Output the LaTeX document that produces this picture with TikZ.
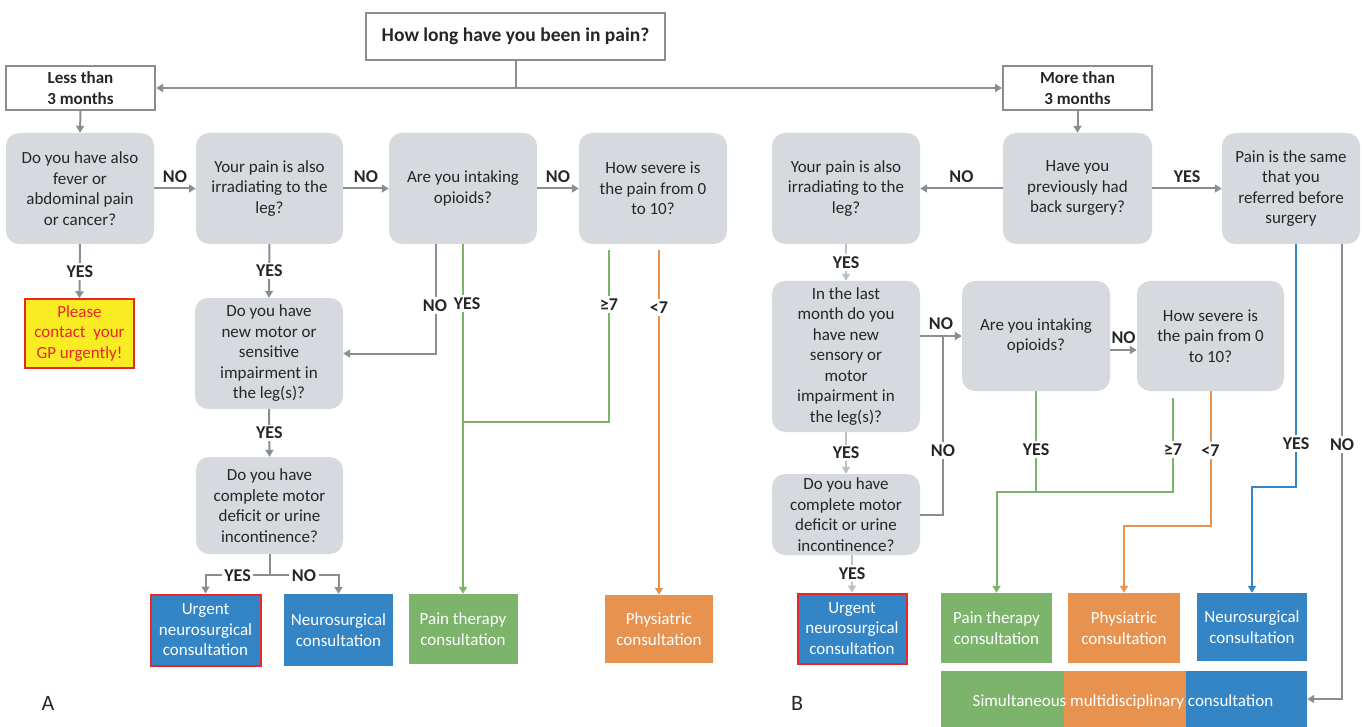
\documentclass[tikz,border=0pt]{standalone}
\usepackage{fontspec}
\setmainfont{Carlito}
\usetikzlibrary{arrows.meta}
\definecolor{qgray}{HTML}{D6D9DE}
\definecolor{lgray}{HTML}{898E93}
\definecolor{llgray}{HTML}{BDC0C4}
\definecolor{cgreen}{HTML}{7BB46A}
\definecolor{corange}{HTML}{E89250}
\definecolor{cblue}{HTML}{3385C6}
\definecolor{cred}{HTML}{E8262B}
\definecolor{cyellow}{HTML}{F9EC22}
\definecolor{txt}{HTML}{262626}
\newcommand\qf{\fontsize{17}{20.5}\selectfont}
\newcommand\hf{\fontsize{17}{21}\selectfont\bfseries}
\newcommand\tf{\fontsize{19.5}{22}\selectfont\bfseries}
\newcommand\lf{\fontsize{18}{19}\selectfont\bfseries}
\begin{document}
\begin{tikzpicture}[x=1pt,y=-1pt,
  q/.style={rectangle, rounded corners=13pt, fill=qgray, align=center, inner sep=0pt, text=txt, font=\qf},
  hdr/.style={rectangle, draw=lgray, line width=2pt, fill=white, align=center, inner sep=0pt, text=txt, font=\hf},
  res/.style={rectangle, align=center, inner sep=0pt, text=white, font=\qf},
  urg/.style={res, fill=cblue, draw=cred, line width=2pt},
  lab/.style={font=\lf, text=txt, fill=white, inner sep=2.5pt},
  labup/.style={font=\lf, text=txt, above=5pt, midway, inner sep=0pt},
  ln/.style={draw=lgray, line width=2pt},
  arr/.style={ln, -{Triangle[width=8pt,length=7pt]}},
  larr/.style={draw=llgray, line width=2pt, -{Triangle[width=8pt,length=7pt]}},
  gln/.style={draw=cgreen, line width=2pt},
  garr/.style={gln, -{Triangle[width=8pt,length=7pt]}},
  oarr/.style={draw=corange, line width=2pt, -{Triangle[width=8pt,length=7pt]}},
  barr/.style={draw=cblue, line width=2pt, -{Triangle[width=8pt,length=7pt]}}
]
\useasboundingbox (0,0) rectangle (1362,727);

% headers
\node[hdr, minimum width=299pt, minimum height=47pt, font=\tf] (top) at (515.5,36.5) {How long have you been in pain?};
\node[hdr, minimum width=149pt, minimum height=44pt] (less) at (80.5,88) {Less than\\3 months};
\node[hdr, minimum width=149pt, minimum height=44pt] (more) at (1077.5,88) {More than\\3 months};

% part A questions
\node[q, minimum width=148pt, minimum height=111pt] (Q1) at (80,188.5) {Do you have also\\fever or\\abdominal pain\\or cancer?};
\node[q, minimum width=147pt, minimum height=111pt] (Q2) at (269.5,188.5) {Your pain is also\\irradiating to the\\leg?};
\node[q, minimum width=148pt, minimum height=111pt] (Q3) at (463,188.5) {Are you intaking\\opioids?};
\node[q, minimum width=148pt, minimum height=111pt] (Q4) at (653,188.5) {How severe is\\the pain from 0\\to 10?};
\node[rectangle, fill=cyellow, draw=cred, line width=1.5pt, align=center, inner sep=0pt, text=cred, font=\qf, minimum width=109pt, minimum height=69pt] (GP) at (79.5,333.5) {Please\\contact\ \ your\\GP urgently!};
\node[q, minimum width=148pt, minimum height=111pt] (Q2b) at (269,353.5) {Do you have\\new motor or\\sensitive\\impairment in\\the leg(s)?};
\node[q, minimum width=147pt, minimum height=97pt] (Q2c) at (269.5,505.5) {Do you have\\complete motor\\deficit or urine\\incontinence?};

% part A results
\node[urg, minimum width=110pt, minimum height=71pt] (UrgA) at (205.5,630) {Urgent\\neurosurgical\\consultation};
\node[res, fill=cblue, minimum width=109pt, minimum height=72pt] (NeuA) at (338.5,630) {Neurosurgical\\consultation};
\node[res, fill=cgreen, minimum width=109pt, minimum height=70pt] (PainA) at (463,629) {Pain therapy\\consultation};
\node[res, fill=corange, minimum width=108pt, minimum height=68pt] (PhyA) at (659,629) {Physiatric\\consultation};

% part B questions
\node[q, minimum width=148pt, minimum height=111pt] (Q5) at (846,188.5) {Your pain is also\\irradiating to the\\leg?};
\node[q, minimum width=149pt, minimum height=111pt] (Q6) at (1077.5,188.5) {Have you\\previously had\\back surgery?};
\node[q, minimum width=138pt, minimum height=111pt] (Q7) at (1291,188.5) {Pain is the same\\that you\\referred before\\surgery};
\node[q, minimum width=148pt, minimum height=151pt] (Q5b) at (846,356.5) {In the last\\month do you\\have new\\sensory or\\motor\\impairment in\\the leg(s)?};
\node[q, minimum width=148pt, minimum height=110pt] (Q8) at (1036,336) {Are you intaking\\opioids?};
\node[q, minimum width=147pt, minimum height=110pt] (Q9) at (1210.5,336) {How severe is\\the pain from 0\\to 10?};
\node[q, minimum width=148pt, minimum height=81pt] (Q5c) at (846,514.5) {Do you have\\complete motor\\deficit or urine\\incontinence?};

% part B results
\node[urg, minimum width=109pt, minimum height=70pt] (UrgB) at (852,628.5) {Urgent\\neurosurgical\\consultation};
\node[res, fill=cgreen, minimum width=111pt, minimum height=70pt] (PainB) at (996.5,628) {Pain therapy\\consultation};
\node[res, fill=corange, minimum width=112pt, minimum height=70pt] (PhyB) at (1124,628) {Physiatric\\consultation};
\node[res, fill=cblue, minimum width=110pt, minimum height=68pt] (NeuB) at (1252,627) {Neurosurgical\\consultation};
\node[res, fill=cgreen, minimum width=123pt, minimum height=56pt] (barG) at (1002.5,699) {};
\node[res, fill=corange, minimum width=122pt, minimum height=56pt] (barO) at (1125,699) {};
\node[res, fill=cblue, minimum width=121pt, minimum height=56pt] (barN) at (1246.5,699) {};
\node[res] (bart) at (1123,702) {Simultaneous multidisciplinary consultation};

% panel letters
\node[font=\fontsize{22}{24}\selectfont, text=txt] (labA) at (48,703) {A};
\node[font=\fontsize{22}{24}\selectfont, text=txt] (labB) at (797,703) {B};

% bend coordinates
\coordinate (jA) at (463,422);
\coordinate (jB) at (943,337);
\coordinate (jG) at (1036,492);
\coordinate (jO) at (1211,526);
\coordinate (jN) at (1296,487);

% top connectors
\draw[ln] (top.south) -- (top.south |- less.east) coordinate (tj);
\draw[arr] (tj) -- (less.east);
\draw[arr] (tj) -- (more.west);
\draw[arr] (less.south) -- (Q1.north);
\draw[arr] (more.south) -- (Q6.north);

% part A connectors
\draw[arr] (Q1.east) -- node[labup]{NO} (Q2.west);
\draw[arr] (Q2.east) -- node[labup]{NO} (Q3.west);
\draw[arr] (Q3.east) -- node[labup]{NO} (Q4.west);
\draw[arr] (Q1.south) -- node[lab]{YES} (GP.north);
\draw[arr] (Q2.south) -- node[lab]{YES} (Q2b.north);
\draw[arr] (Q2b.south) -- node[lab]{YES} (Q2c.north);
\draw[ln] (Q2c.south) -- ++(0,21) coordinate (c2s);
\draw[arr] (c2s) -| node[lab, pos=0.25]{YES} (UrgA.north);
\draw[arr] (c2s) -| node[lab, pos=0.25]{NO} (NeuA.north);
\draw[arr] ([xshift=-27pt]Q3.south) |- node[lab, pos=0.28, xshift=-1pt, inner xsep=1pt]{NO} (Q2b.east);
\draw[garr] (Q3.south) -- node[lab, pos=0.17, xshift=4pt, inner xsep=1pt]{YES} (PainA.north);
\draw[gln, shorten <=6pt] ([xshift=-44pt]Q4.south) |- node[lab, pos=0.17]{≥7} (jA);
\draw[oarr, shorten <=6pt] (Q4.south -| PhyA.north) -- node[lab, pos=0.18]{<7} (PhyA.north);

% part B connectors
\draw[arr] (Q6.west) -- node[labup]{NO} (Q5.east);
\draw[arr] (Q6.east) -- node[labup]{YES} (Q7.west);
\draw[larr] (Q5.south) -- node[lab]{YES} (Q5b.north);
\draw[larr] (Q5b.south) -- node[lab]{YES} (Q5c.north);
\draw[larr] (Q5c.south -| UrgB.north) -- node[lab]{YES} (UrgB.north);
\draw[arr] (Q5b.east |- Q8.west) -- node[labup]{NO} (Q8.west);
\draw[ln] (Q5c.east) -| node[lab, pos=0.68]{NO} (jB);
\draw[arr] ([yshift=-14pt]Q8.east) -- node[labup]{NO} ([yshift=-14pt]Q9.west);
\draw[gln] (Q8.south) -- node[lab, pos=0.58]{YES} (jG);
\draw[garr, shorten <=7pt] ([xshift=-37.5pt]Q9.south) |- node[lab, pos=0.29]{≥7} (PainB.north |- jG) -- (PainB.north);
\draw[oarr] (Q9.south) |- node[lab, pos=0.22]{<7} (PhyB.north |- jO) -- (PhyB.north);
\draw[barr] ([xshift=5pt]Q7.south) |- node[lab, pos=0.41]{YES} (NeuB.north |- jN) -- (NeuB.north);
\draw[arr] ([xshift=51pt]Q7.south) |- node[lab, pos=0.22]{NO} (barN.east);
\end{tikzpicture}
\end{document}
